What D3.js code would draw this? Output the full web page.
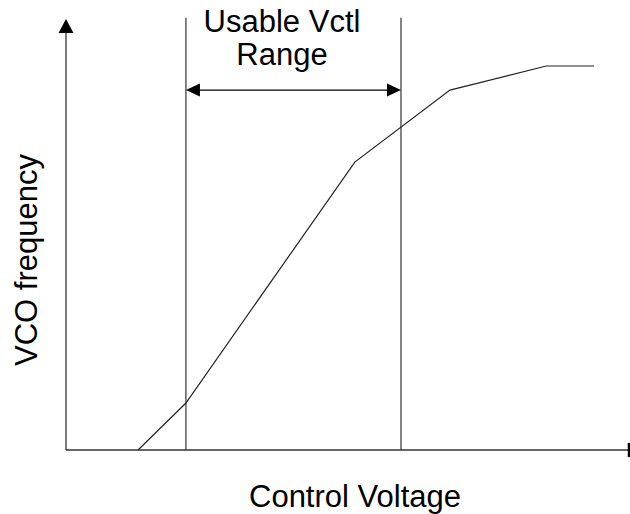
<!DOCTYPE html>
<html>
<head>
    <script src="https://cdnjs.cloudflare.com/ajax/libs/d3/7.8.5/d3.min.js"></script>
    <style>
        body { margin: 0; background: #fff; }
        .label { font-family: "Liberation Sans", Arial, sans-serif; font-size: 31px; fill: #000; }
    </style>
</head>
<body>
    <svg id="chart" width="630" height="514"></svg>
    <script>
        // VCO transfer curve (abstract units, 0..10 on both axes)
        const vctl = [1.28, 2.13, 5.13, 6.82, 8.53, 9.38];
        const freq = [0, 1.09, 6.68, 8.35, 8.91, 8.91];
        // usable control range bounds
        const rangeBounds = [2.13, 5.95];
        const rangeArrowLevel = 8.35;
        const rangeTop = 10.03;
        const xLabel = "Control Voltage";
        const yLabel = "VCO frequency";
        const rangeLabel = ["Usable Vctl", "Range"];

        const svg = d3.select("#chart");
        const x = d3.scaleLinear().domain([0, 10]).range([66, 629]);
        const y = d3.scaleLinear().domain([0, 10]).range([450, 19]);

        // axes
        svg.append("line")
            .attr("x1", x(0)).attr("y1", y(0))
            .attr("x2", x(10)).attr("y2", y(0))
            .attr("stroke", "#333").attr("stroke-width", 1.3);
        svg.append("line")
            .attr("x1", x(0)).attr("y1", y(0))
            .attr("x2", x(0)).attr("y2", y(10) + 8)
            .attr("stroke", "#333").attr("stroke-width", 1.3);
        // y arrowhead
        svg.append("path")
            .attr("d", `M${x(0)},${y(10)} L${x(0) - 7.5},${y(10) + 14} L${x(0) + 7.5},${y(10) + 14}Z`)
            .attr("fill", "#000");
        // x end tick
        svg.append("line")
            .attr("x1", x(10)).attr("y1", y(0) - 7)
            .attr("x2", x(10)).attr("y2", y(0) + 7)
            .attr("stroke", "#000").attr("stroke-width", 2.5);

        // range bounds
        svg.selectAll(".bound")
            .data(rangeBounds)
            .enter()
            .append("line")
            .attr("class", "bound")
            .attr("x1", d => x(d)).attr("x2", d => x(d))
            .attr("y1", y(rangeTop)).attr("y2", y(0))
            .attr("stroke", "#333").attr("stroke-width", 1.2);

        // double arrow
        const ay = y(rangeArrowLevel);
        const x0 = x(rangeBounds[0]), x1 = x(rangeBounds[1]);
        svg.append("line")
            .attr("x1", x0 + 10).attr("x2", x1 - 10)
            .attr("y1", ay).attr("y2", ay)
            .attr("stroke", "#000").attr("stroke-width", 1.3);
        svg.append("path")
            .attr("d", `M${x0},${ay} L${x0 + 14},${ay - 6.5} L${x0 + 14},${ay + 6.5}Z`)
            .attr("fill", "#000");
        svg.append("path")
            .attr("d", `M${x1},${ay} L${x1 - 14},${ay - 6.5} L${x1 - 14},${ay + 6.5}Z`)
            .attr("fill", "#000");

        // curve
        const line = d3.line().x(d => x(d[0])).y(d => y(d[1]));
        svg.append("path")
            .datum(d3.zip(vctl, freq))
            .attr("d", line)
            .attr("fill", "none")
            .attr("stroke", "#222")
            .attr("stroke-width", 1.2);

        // labels
        svg.append("text").attr("class", "label")
            .attr("x", 282).attr("y", 32)
            .attr("text-anchor", "middle")
            .text(rangeLabel[0]);
        svg.append("text").attr("class", "label")
            .attr("x", 282).attr("y", 65)
            .attr("text-anchor", "middle")
            .text(rangeLabel[1]);
        svg.append("text").attr("class", "label")
            .attr("x", 355).attr("y", 507)
            .attr("text-anchor", "middle")
            .text(xLabel);
        svg.append("text").attr("class", "label")
            .attr("transform", "translate(37,260) rotate(-90)")
            .attr("text-anchor", "middle")
            .text(yLabel);
    </script>
</body>
</html>
